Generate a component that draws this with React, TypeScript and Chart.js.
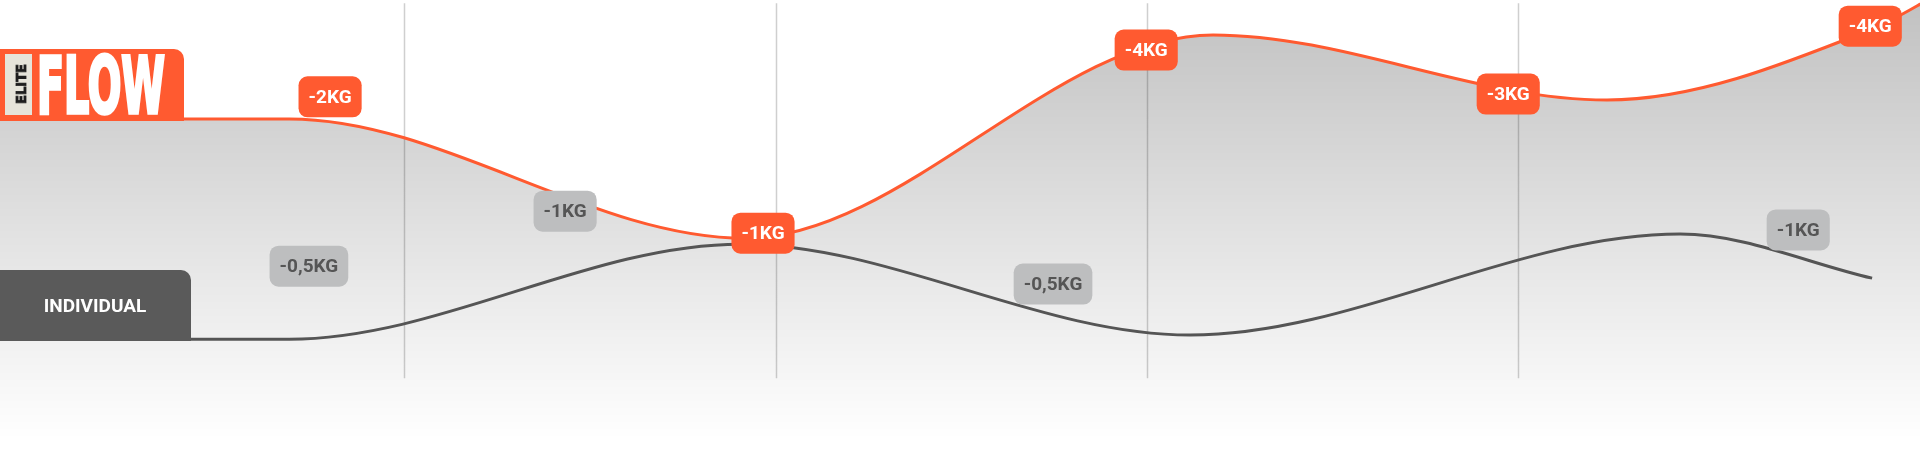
import React, { useEffect, useRef } from "react";
import { Chart, registerables } from "chart.js";
Chart.register(...registerables);

const ORANGE = "#FF5A30";
const DARK = "#555555";
const LABEL_GREY = "#BDBEBF";

// x: weeks (grid lines at weeks 1..4), y: progress units
const eliteX = [-0.09, 0.69, 1.918, 3.178, 4.239, 4.948, 5.14];
const eliteY = [7.41, 7.41, 4.81, 9.24, 7.82, 9.35, 10.17];
const indivX = [-0.09, 0.69, 1.905, 3.116, 4.436, 4.953];
const indivY = [2.61, 2.61, 4.68, 2.7, 4.9, 3.94];
const gridWeeks = [1, 2, 3, 4];
const gridTop = 9.93;
const gridBottom = 1.76;

const labelTexts = ["-2KG", "-1KG", "-1KG", "-4KG", "-3KG", "-4KG", "-0,5KG", "-0,5KG", "-1KG"];
const labelX = [0.8, 1.433, 1.966, 2.998, 3.973, 4.948, 0.743, 2.747, 4.754];
const labelY = [7.89, 5.4, 4.92, 8.91, 7.95, 9.43, 4.2, 3.81, 4.99];
const labelElite = [true, false, true, true, true, true, false, false, false];

const eliteTitle = "FLOW";
const eliteBadge = "ELITE";
const indivTitle = "INDIVIDUAL";

function roundRect(ctx: CanvasRenderingContext2D, x: number, y: number, w: number, h: number, r: number) {
  ctx.beginPath();
  ctx.moveTo(x + r, y);
  ctx.arcTo(x + w, y, x + w, y + h, r);
  ctx.arcTo(x + w, y + h, x, y + h, r);
  ctx.arcTo(x, y + h, x, y, r);
  ctx.arcTo(x, y, x + w, y, r);
  ctx.closePath();
}

const decorPlugin = {
  id: "decor",
  beforeDatasetsDraw(chart: any) {
    const ctx = chart.ctx as CanvasRenderingContext2D;
    const xs = chart.scales.x;
    const ys = chart.scales.y;
    ctx.save();
    ctx.strokeStyle = "rgba(160,160,160,0.5)";
    ctx.lineWidth = 1.5;
    gridWeeks.forEach((w) => {
      const px = Math.round(xs.getPixelForValue(w)) + 0.5;
      ctx.beginPath();
      ctx.moveTo(px, ys.getPixelForValue(gridTop));
      ctx.lineTo(px, ys.getPixelForValue(gridBottom));
      ctx.stroke();
    });
    ctx.restore();
  },
  afterDatasetsDraw(chart: any) {
    const ctx = chart.ctx as CanvasRenderingContext2D;
    const xs = chart.scales.x;
    const ys = chart.scales.y;
    ctx.save();
    ctx.font = "bold 19px Roboto";
    ctx.textAlign = "center";
    ctx.textBaseline = "middle";
    labelTexts.forEach((t, i) => {
      const cx = xs.getPixelForValue(labelX[i]);
      const cy = ys.getPixelForValue(labelY[i]);
      const w = ctx.measureText(t).width + 20;
      const h = 41;
      roundRect(ctx, cx - w / 2, cy - h / 2, w, h, 9);
      ctx.fillStyle = labelElite[i] ? ORANGE : LABEL_GREY;
      ctx.fill();
      ctx.fillStyle = labelElite[i] ? "#FFFFFF" : DARK;
      ctx.fillText(t, cx, cy + 1);
    });
    ctx.restore();
  },
  afterDraw(chart: any) {
    const ctx = chart.ctx as CanvasRenderingContext2D;
    ctx.save();
    // Elite Flow tab
    ctx.beginPath();
    ctx.moveTo(0, 49);
    ctx.lineTo(174, 49);
    ctx.arcTo(184, 49, 184, 59, 10);
    ctx.lineTo(184, 121);
    ctx.lineTo(0, 121);
    ctx.closePath();
    ctx.fillStyle = ORANGE;
    ctx.fill();
    ctx.fillStyle = "#E6E4DA";
    ctx.fillRect(5, 54, 27, 61);
    // ELITE rotated
    ctx.save();
    ctx.translate(22.5, 84);
    ctx.rotate(-Math.PI / 2);
    ctx.font = "bold 14px 'Liberation Sans Narrow', 'DejaVu Sans Condensed', sans-serif";
    const ew = ctx.measureText(eliteBadge).width;
    ctx.scale(40 / ew, 1);
    ctx.fillStyle = "#1E1E1E";
    ctx.strokeStyle = "#1E1E1E";
    ctx.lineWidth = 0.8;
    ctx.textAlign = "center";
    ctx.textBaseline = "middle";
    ctx.fillText(eliteBadge, 0, 0);
    ctx.strokeText(eliteBadge, 0, 0);
    ctx.restore();
    // FLOW
    ctx.save();
    ctx.font = "bold 78px 'Liberation Sans Narrow', 'DejaVu Sans Condensed', sans-serif";
    const fw = ctx.measureText(eliteTitle).width;
    ctx.translate(37, 113);
    ctx.scale(128 / fw, 1);
    ctx.fillStyle = "#FFFFFF";
    ctx.strokeStyle = "#FFFFFF";
    ctx.lineWidth = 3.5;
    ctx.lineJoin = "miter";
    ctx.textAlign = "left";
    ctx.textBaseline = "alphabetic";
    ctx.fillText(eliteTitle, 0, 0);
    ctx.strokeText(eliteTitle, 0, 0);
    ctx.restore();
    // Individual tab
    ctx.beginPath();
    ctx.moveTo(0, 270);
    ctx.lineTo(181, 270);
    ctx.arcTo(191, 270, 191, 280, 10);
    ctx.lineTo(191, 341);
    ctx.lineTo(0, 341);
    ctx.closePath();
    ctx.fillStyle = "#5A5A5A";
    ctx.fill();
    ctx.font = "bold 19px Roboto";
    ctx.fillStyle = "#FFFFFF";
    ctx.textAlign = "center";
    ctx.textBaseline = "middle";
    ctx.fillText(indivTitle, 95, 307);
    ctx.restore();
  },
};

export default function App() {
  const ref = useRef<HTMLCanvasElement | null>(null);
  useEffect(() => {
    if (!ref.current) return;
    const chart = new Chart(ref.current, {
      type: "line",
      data: {
        datasets: [
          {
            label: "Elite Flow",
            data: eliteX.map((x, i) => ({ x, y: eliteY[i] })),
            borderColor: ORANGE,
            borderWidth: 3,
            pointRadius: 0,
            cubicInterpolationMode: "monotone",
            fill: "start",
            order: 1,
            backgroundColor: (c: any) => {
              const g = c.chart.ctx.createLinearGradient(0, 0, 0, 440);
              g.addColorStop(0, "rgba(0,0,0,0.245)");
              g.addColorStop(1, "rgba(0,0,0,0)");
              return g;
            },
          } as any,
          {
            label: "Individual",
            data: indivX.map((x, i) => ({ x, y: indivY[i] })),
            borderColor: DARK,
            borderWidth: 3,
            pointRadius: 0,
            cubicInterpolationMode: "monotone",
            fill: false,
            order: 0,
          } as any,
        ],
      },
      options: {
        responsive: false,
        animation: false,
        devicePixelRatio: 1,
        layout: { padding: 0 },
        plugins: { legend: { display: false }, tooltip: { enabled: false } },
        scales: {
          x: { type: "linear", min: -0.089, max: 5.082, display: false },
          y: { type: "linear", min: 0, max: 10, display: false },
        },
      },
      plugins: [decorPlugin],
    });
    return () => chart.destroy();
  }, []);
  return (
    <div style={{ position: "fixed", left: 0, top: 0, width: 1920, height: 459, background: "#fff" }}>
      <canvas ref={ref} width={1920} height={459} style={{ display: "block" }} />
    </div>
  );
}
